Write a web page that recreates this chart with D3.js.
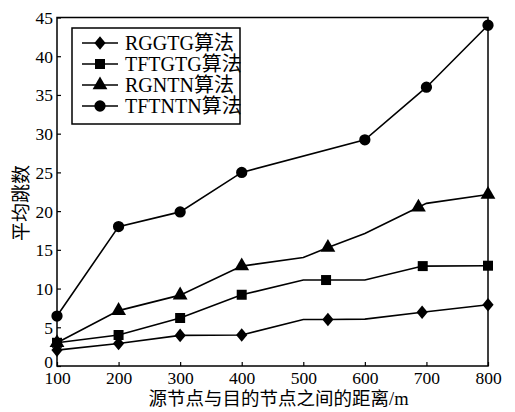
<!DOCTYPE html>
<html><head><meta charset="utf-8">
<script src="https://cdn.jsdelivr.net/npm/d3@7"></script>
<style>body{margin:0;background:#fff}svg{display:block}</style>
</head><body>
<svg id="c" width="515" height="412"></svg>
<script>
const xTicks = [100,200,300,400,500,600,700,800];
const yTicks = [0,5,10,15,20,25,30,35,40,45];
const seriesNames = ["RGGTG算法","TFTGTG算法","RGNTN算法","TFTNTN算法"];
const seriesSymbols = ["diamond","square","triangle","circle"];
// line vertices (x, y) and which of them carry a marker
const rgX = [100,200,300,400,500,540,600,693,800];
const rgY = [2.05,2.9,3.95,4,6,6,6.05,6.95,7.9];
const rgM = [1,1,1,1,0,1,0,1,1];
const tgX = [100,200,300,400,500,537,600,694,800];
const tgY = [3,4,6.2,9.2,11.1,11.1,11.1,12.9,12.95];
const tgM = [1,1,1,1,0,1,0,1,1];
const rnX = [100,200,300,400,500,540,600,687,700,800];
const rnY = [3,7.15,9.15,12.9,14,15.3,17.1,20.5,21,22.15];
const rnM = [1,1,1,1,0,1,0,1,0,1];
const tnX = [100,200,300,400,600,700,800];
const tnY = [6.45,18,19.9,25,29.2,36,44];
const tnM = [1,1,1,1,1,1,1];

const series = [[rgX,rgY,rgM],[tgX,tgY,tgM],[rnX,rnY,rnM],[tnX,tnY,tnM]].map((s,i)=>({
  name: seriesNames[i], sym: seriesSymbols[i],
  pts: s[0].map((x,j)=>({x, y:s[1][j], m:s[2][j]}))
}));

const svg = d3.select("#c");
const x = d3.scaleLinear().domain([100,800]).range([57,488]);
const y = d3.scaleLinear().domain([0,45]).range([366,17.5]);
const serif = "'Liberation Serif','Times New Roman','Noto Sans CJK SC',serif";

function symPath(sym){
  if(sym==="diamond") return "M0,-6.8L5.6,0L0,6.8L-5.6,0Z";
  if(sym==="square") return "M-5,-5H5V5H-5Z";
  if(sym==="triangle") return d3.symbol(d3.symbolTriangle, 95)();
  return d3.symbol(d3.symbolCircle, 100)();
}

// frame
svg.append("rect").attr("x",x(100)).attr("y",y(45)).attr("width",x(800)-x(100)).attr("height",y(0)-y(45))
  .attr("fill","none").attr("stroke","#000").attr("stroke-width",1.5);

// ticks
const gx = svg.append("g").attr("transform",`translate(0,${y(0)})`)
  .call(d3.axisBottom(x).tickValues(xTicks).tickSizeInner(-4).tickSizeOuter(0).tickPadding(6).tickFormat(d3.format("d")));
const gy = svg.append("g").attr("transform",`translate(${x(100)},0)`)
  .call(d3.axisLeft(y).tickValues(yTicks).tickSizeInner(-4).tickSizeOuter(0).tickPadding(4).tickFormat(d3.format("d")));
[gx,gy].forEach(g=>{
  g.select(".domain").remove();
  g.selectAll("line").attr("stroke","#000").attr("stroke-width",1.2);
  g.selectAll("text").attr("font-family",serif).attr("font-size",17.5).attr("fill","#000");
});
gy.selectAll("text").attr("dy",d=>d===0?"0.1em":"0.34em");

// lines and markers
const line = d3.line().x(d=>x(d.x)).y(d=>y(d.y));
series.forEach(s=>{
  svg.append("path").attr("d",line(s.pts)).attr("fill","none").attr("stroke","#000").attr("stroke-width",1.6);
  svg.selectAll(null).data(s.pts.filter(d=>d.m)).enter().append("path")
    .attr("d",symPath(s.sym)).attr("transform",d=>`translate(${x(d.x)},${y(d.y)})`).attr("fill","#000");
});

// axis titles
svg.append("text").attr("x",(x(100)+x(800))/2+6).attr("y",405).attr("text-anchor","middle")
  .attr("font-family",serif).attr("font-size",18.5).text("源节点与目的节点之间的距离/m");
svg.append("text").attr("transform","translate(28,203) rotate(-90)").attr("text-anchor","middle")
  .attr("font-family",serif).attr("font-size",19).text("平均跳数");

// legend
const lg = svg.append("g");
lg.append("rect").attr("x",72).attr("y",28).attr("width",168).attr("height",96)
  .attr("fill","#fff").attr("stroke","#000").attr("stroke-width",1.5);
const rows = [43,64,85,106];
series.forEach((s,i)=>{
  const ry = rows[i];
  lg.append("line").attr("x1",82).attr("x2",118).attr("y1",ry).attr("y2",ry).attr("stroke","#000").attr("stroke-width",1.6);
  lg.append("path").attr("d",symPath(s.sym)).attr("transform",`translate(100,${ry})`).attr("fill","#000");
  lg.append("text").attr("x",125).attr("y",ry).attr("dy","0.35em").attr("font-family",serif).attr("font-size",20).text(s.name);
});
</script>
</body></html>
